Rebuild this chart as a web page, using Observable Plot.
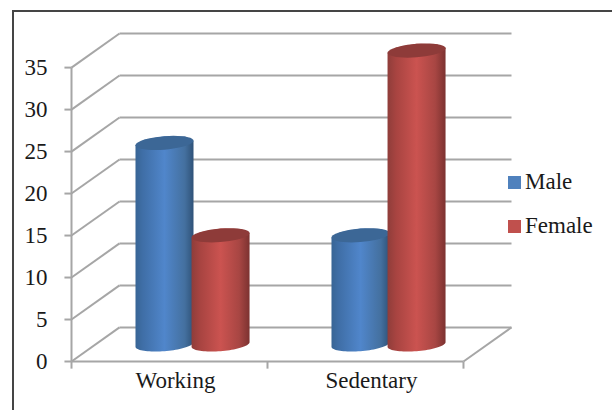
<!DOCTYPE html>
<html>
<head>
<meta charset="utf-8">
<script src="https://cdn.jsdelivr.net/npm/d3@7"></script>
<script src="https://cdn.jsdelivr.net/npm/@observablehq/plot@0.6"></script>
<style>
  html, body { margin: 0; padding: 0; background: #fff; overflow: hidden; width: 612px; height: 410px; }
  #frame { position: absolute; left: 12px; top: 10px; width: 700px; height: 500px; border: 2px solid #454545; box-sizing: border-box; }
  #chart { position: absolute; left: 0; top: 0; }
  #chart svg { display: block; background: transparent; }
  .legend { position: absolute; left: 508px; font: 23px "Liberation Serif", serif; color: #1a1a1a; display: flex; align-items: center; gap: 4px; line-height: 22px; }
  .legend i { display: block; width: 13px; height: 13px; }
</style>
</head>
<body>
<div id="frame"></div>
<div id="chart"></div>
<div class="legend" style="top:171px"><i style="background:#4f81bd"></i><span>Male</span></div>
<div class="legend" style="top:215px"><i style="background:#c0504d"></i><span>Female</span></div>
<script>
const categories = ["Working", "Sedentary"];
const male = [24, 13];
const female = [13, 35];
const yTicks = [0, 5, 10, 15, 20, 25, 30, 35];

// Oblique projection of the 3-D box, in data units
const depthX = 0.245;
const depthY = 4.06;
const xMax = categories.length;

// Tick lengths, in data units
const yTickLen = 0.036;
const xTickLen = 0.85;

// Cylinder proportions, in data units
const radiusX = 0.148;
const radiusY = 0.8;
const tilt = 0.27;
const offset = 0.143;

const ring = (cx, v, from, to, n = 40) =>
  d3.range(n + 1).map(i => {
    const t = from + (to - from) * i / n;
    return {x: cx + radiusX * Math.cos(t), y: v + radiusY * Math.sin(t) + tilt * Math.cos(t)};
  });

// Cylinders stand halfway back on the floor
const centre = (i, side) => i + 0.495 + side * offset + depthX / 2;
const base = depthY / 2;

const cylinder = (i, side, value, body, cap) => {
  const cx = centre(i, side);
  const top = value + base;
  return [
    Plot.line([...ring(cx, base, Math.PI, 2 * Math.PI), ...ring(cx, top, 0, Math.PI, 4)], {
      x: "x", y: "y", fill: `url(#${body})`, stroke: "none", curve: "linear"
    }),
    Plot.line(ring(cx, top, 0, 2 * Math.PI), {
      x: "x", y: "y", fill: cap, stroke: "none", curve: "linear"
    })
  ];
};

const gradient = (id, stops) => () => {
  const defs = d3.create("svg:defs");
  const g = defs.append("linearGradient").attr("id", id);
  stops.forEach(([o, c]) => g.append("stop").attr("offset", o).attr("stop-color", c));
  return defs.node();
};

const blueStops = [[0, "#386595"], [0.12, "#3f6ea6"], [0.5, "#5086cb"], [0.85, "#44709f"], [1, "#2f5278"]];
const redStops = [[0, "#8f3d3a"], [0.15, "#a84441"], [0.5, "#cb5350"], [0.82, "#a84643"], [1, "#7c3230"]];

const gridColor = "#a6a6a6";
const wallLines = yTicks.map(v => ({v, x0: 0, xBack: depthX, yBack: v + depthY, xEnd: xMax + depthX}));
const segment = {stroke: gridColor, strokeWidth: 2};
const labelFont = {fontFamily: "Liberation Serif", fontSize: 23, fill: "#1a1a1a"};

const plot = Plot.plot({
  width: 612,
  height: 410,
  marginLeft: 71,
  marginRight: 101,
  marginTop: 33,
  marginBottom: 49,
  x: {type: "linear", domain: [0, xMax + depthX], axis: null},
  y: {type: "linear", domain: [0, 35 + depthY], axis: null},
  style: {background: "transparent"},
  marks: [
    gradient("cyl-blue", blueStops),
    gradient("cyl-red", redStops),
    // Receding side-wall segments and back wall gridlines
    Plot.link(wallLines, {x1: "x0", y1: "v", x2: "xBack", y2: "yBack", ...segment}),
    Plot.link(wallLines, {x1: "xBack", y1: "yBack", x2: "xEnd", y2: "yBack", ...segment}),
    // Floor edges
    Plot.link([{a: 0, b: xMax, y: 0}], {x1: "a", x2: "b", y1: "y", y2: "y", ...segment}),
    Plot.link([{a: xMax, b: xMax + depthX, c: 0, d: depthY}], {x1: "a", x2: "b", y1: "c", y2: "d", ...segment}),
    // Axis lines and tick marks
    Plot.link([{x: 0, a: 0, b: 35}], {x1: "x", x2: "x", y1: "a", y2: "b", ...segment}),
    Plot.link(yTicks, {x1: () => -yTickLen, x2: () => 0, y1: d => d, y2: d => d, ...segment}),
    Plot.link(d3.range(xMax + 1), {x1: d => d, x2: d => d, y1: () => 0, y2: () => -xTickLen, ...segment}),
    // Tick labels
    Plot.text(yTicks, {x: () => 0, y: d => d, text: d => String(d), dx: -24, textAnchor: "end", ...labelFont}),
    Plot.text(categories, {x: (d, i) => i + 0.5, y: () => 0, text: d => d, dx: 6, dy: 19, ...labelFont}),
    // Cylinders, with each female column in front of its neighbour
    ...categories.flatMap((_, i) => [
      ...cylinder(i, -1, male[i], "cyl-blue", "#3c6796"),
      ...cylinder(i, 1, female[i], "cyl-red", "#8e3b39")
    ])
  ]
});
document.getElementById("chart").append(plot);
</script>
</body>
</html>
